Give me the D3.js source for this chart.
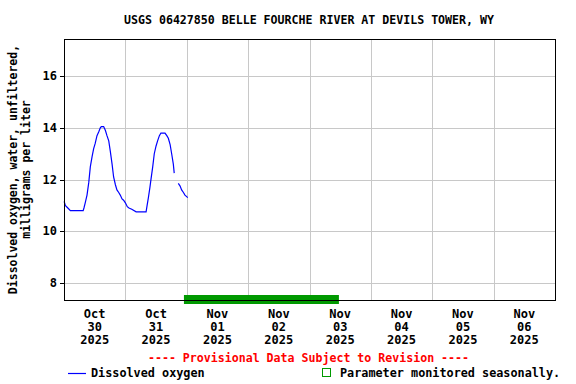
<!DOCTYPE html>
<html>
<head>
<meta charset="utf-8">
<script src="https://cdn.jsdelivr.net/npm/d3@7"></script>
<style>
  body { margin: 0; background: #fff; }
  text { font-family: "DejaVu Sans Mono", monospace; font-weight: bold; }
</style>
</head>
<body>
<script>
// hours after 2025-10-30 00:00 and dissolved oxygen (mg/L); null = gap
var hours = [0, 0.25, 0.5, 1.5, 2.5, 7.5, 7.8, 8.3, 9.0, 9.7, 10.3, 11.0, 11.6, 12.2, 12.9, 13.6, 14.2, 14.6,
  15.5, 16.2, 16.8, 17.5, 18.1, 18.8, 19.4, 20.1, 20.7, 21.4, 22.0, 22.7, 23.3, 24.0, 24.75, 25.4, 26.5,
  28.2, 32.1, 32.5, 33.0, 33.6, 34.0, 34.7, 35.3, 36.0, 36.6, 37.3, 37.9, 39.5, 40.2, 40.8, 41.5, 42.1,
  42.75, 43.1, 43.9, 44.7, 45.4, 46.0, 46.7, 47.3, 48.4];
var oxygen = [11.15, 11.1, 11.0, 10.9, 10.8, 10.8, 10.9, 11.1, 11.4, 11.9, 12.5, 12.9, 13.2, 13.4, 13.7, 13.85,
  14.0, 14.05, 14.05, 13.9, 13.7, 13.5, 13.1, 12.6, 12.1, 11.8, 11.6, 11.5, 11.4, 11.25, 11.2, 11.1, 10.95,
  10.9, 10.85, 10.75, 10.75, 11.0, 11.3, 11.7, 12.0, 12.5, 13.0, 13.3, 13.5, 13.7, 13.8, 13.8, 13.7, 13.6,
  13.35, 13.0, 12.6, 12.25, null, 11.85, 11.75, 11.6, 11.5, 11.4, 11.3];
var dayLabels = [["Oct", "30", "2025"], ["Oct", "31", "2025"], ["Nov", "01", "2025"], ["Nov", "02", "2025"],
  ["Nov", "03", "2025"], ["Nov", "04", "2025"], ["Nov", "05", "2025"], ["Nov", "06", "2025"]];
var yTicks = [8, 10, 12, 14, 16];
var seasonal = [46.9, 107.5]; // hours, green bar span

var width = 576, height = 384;
var pLeft = 64, pRight = 555, pTop = 39, pBottom = 300;
var start = new Date(2025, 9, 30);
var end = new Date(2025, 10, 7);
function toDate(h) { return new Date(start.getTime() + h * 3600000); }

var svg = d3.select("body").append("svg").attr("width", width).attr("height", height);

var x = d3.scaleTime().domain([start, end]).range([pLeft, pRight]);
var y = d3.scaleLinear().domain([7.34, 17.44]).range([pBottom, pTop]);

// grid
var midnights = d3.timeDay.range(d3.timeDay.offset(start, 1), end);
svg.append("g").selectAll("line").data(midnights).enter().append("line")
  .attr("x1", d => Math.round(x(d)) + 0.5).attr("x2", d => Math.round(x(d)) + 0.5)
  .attr("y1", pTop).attr("y2", pBottom)
  .attr("stroke", "#c8c8c8").attr("stroke-width", 1);
svg.append("g").selectAll("line").data(yTicks).enter().append("line")
  .attr("x1", pLeft).attr("x2", pRight)
  .attr("y1", d => Math.round(y(d)) + 0.5).attr("y2", d => Math.round(y(d)) + 0.5)
  .attr("stroke", "#c8c8c8").attr("stroke-width", 1);

// y ticks + labels
var yAxis = svg.append("g");
yAxis.selectAll("line").data(yTicks).enter().append("line")
  .attr("x1", pLeft - 4).attr("x2", pLeft)
  .attr("y1", d => Math.round(y(d)) + 0.5).attr("y2", d => Math.round(y(d)) + 0.5)
  .attr("stroke", "#000");
yAxis.selectAll("text").data(yTicks).enter().append("text")
  .attr("x", pLeft - 7).attr("y", d => y(d) + 4)
  .attr("text-anchor", "end").attr("font-size", 12).text(d => d);

// y title
var yt = svg.append("text")
  .attr("transform", "translate(17," + (pTop + pBottom) / 2 + ") rotate(-90)")
  .attr("text-anchor", "middle").attr("font-size", 11.5);
yt.append("tspan").attr("x", 0).attr("dy", 0).text("Dissolved oxygen, water, unfiltered,");
yt.append("tspan").attr("x", 0).attr("dy", 12.5).text("milligrams per liter");

// x labels at noon of each day
var noons = dayLabels.map((d, i) => d3.timeHour.offset(d3.timeDay.offset(start, i), 12));
var xl = svg.append("g").selectAll("text").data(dayLabels).enter().append("text")
  .attr("text-anchor", "middle").attr("font-size", 12);
xl.each(function(d, i) {
  var t = d3.select(this);
  d.forEach((s, j) => {
    t.append("tspan").attr("x", x(noons[i])).attr("y", 318 + j * 13).text(s);
  });
});

// data line
var pts = hours.map((h, i) => ({ t: toDate(h), v: oxygen[i] }));
var line = d3.line().defined(d => d.v !== null).x(d => x(d.t)).y(d => y(d.v));
svg.append("path").datum(pts).attr("d", line)
  .attr("fill", "none").attr("stroke", "#0000ff").attr("stroke-width", 1.2);

// frame
svg.append("rect").attr("x", pLeft + 0.5).attr("y", pTop + 0.5)
  .attr("width", pRight - pLeft).attr("height", pBottom - pTop)
  .attr("fill", "none").attr("stroke", "#000");

// seasonal bar
svg.append("rect")
  .attr("x", x(toDate(seasonal[0]))).attr("y", pBottom - 5)
  .attr("width", x(toDate(seasonal[1])) - x(toDate(seasonal[0]))).attr("height", 9)
  .attr("fill", "#009900");
svg.append("line").attr("x1", pLeft).attr("x2", pRight + 1)
  .attr("y1", pBottom + 0.5).attr("y2", pBottom + 0.5).attr("stroke", "#000");

// title
svg.append("text").attr("x", 309).attr("y", 24).attr("text-anchor", "middle")
  .attr("font-size", 11.6).text("USGS 06427850 BELLE FOURCHE RIVER AT DEVILS TOWER, WY");

// provisional note
svg.append("text").attr("x", 308.5).attr("y", 362).attr("text-anchor", "middle")
  .attr("font-size", 11.6).attr("fill", "#ff0000")
  .text("---- Provisional Data Subject to Revision ----");

// legend
svg.append("line").attr("x1", 68).attr("x2", 86).attr("y1", 373.5).attr("y2", 373.5)
  .attr("stroke", "#0000ff").attr("stroke-width", 1.2);
svg.append("text").attr("x", 91).attr("y", 377).attr("font-size", 11.8).text("Dissolved oxygen");
svg.append("rect").attr("x", 322.5).attr("y", 368.5).attr("width", 8).attr("height", 8)
  .attr("fill", "none").attr("stroke", "#009900");
svg.append("text").attr("x", 340).attr("y", 377).attr("font-size", 11.8)
  .text("Parameter monitored seasonally.");
</script>
</body>
</html>
